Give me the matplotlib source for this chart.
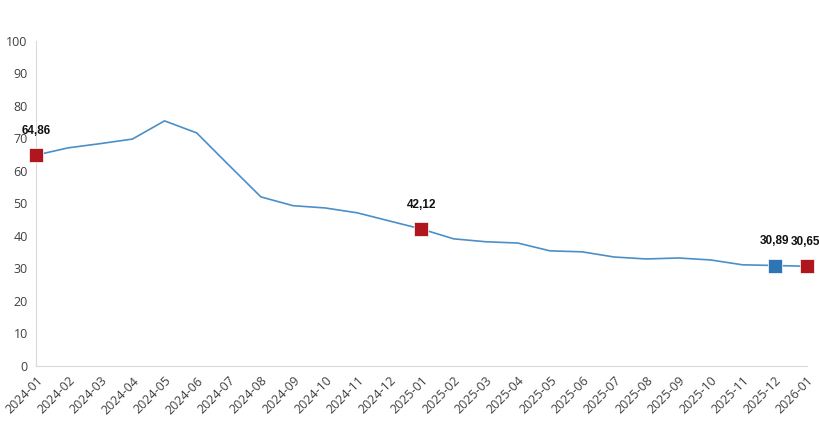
import matplotlib.pyplot as plt

months = ["2024-01", "2024-02", "2024-03", "2024-04", "2024-05", "2024-06",
          "2024-07", "2024-08", "2024-09", "2024-10", "2024-11", "2024-12",
          "2025-01", "2025-02", "2025-03", "2025-04", "2025-05", "2025-06",
          "2025-07", "2025-08", "2025-09", "2025-10", "2025-11", "2025-12",
          "2026-01"]
values = [64.86, 67.1, 68.4, 69.8, 75.4, 71.7, 61.8, 52.0, 49.3, 48.6, 47.1, 44.6,
          42.12, 39.1, 38.2, 37.8, 35.4, 35.1, 33.5, 32.9, 33.2, 32.6, 31.1, 30.89,
          30.65]

# highlighted points
red_idx = [0, 12, 24]
blue_idx = [23]

red = "#B0161E"
blue = "#2E75B6"
line_color = "#4A8FC9"

fig = plt.figure(figsize=(8.2, 4.22), dpi=100)
ax = fig.add_axes([0.044, 0.133, 0.940, 0.770])

x = list(range(len(months)))
ax.plot(x, values, color=line_color, linewidth=1.2, zorder=2)

for idx, c in ((red_idx, red), (blue_idx, blue)):
    for i in idx:
        ax.plot(x[i], values[i], marker="s", markersize=9.5, color=c,
                markeredgecolor="white", markeredgewidth=0.5, clip_on=False, zorder=3)

for i in red_idx + blue_idx:
    label = f"{values[i]:.2f}".replace(".", ",")
    dx = -1 if i == len(months) - 1 else 0
    ax.annotate(label, (x[i], values[i]), xytext=(dx, 13), textcoords="offset points",
                ha="center", va="bottom", fontsize=8.5, fontweight="bold",
                family="Liberation Sans", color="#111111", annotation_clip=False)

ax.set_xlim(0, len(months) - 1)
ax.set_ylim(0, 100)
ax.set_yticks(range(0, 101, 10))
ax.set_xticks(x)
ax.set_xticklabels(months, rotation=45, ha="right", rotation_mode="anchor")

for lbl in ax.get_xticklabels() + ax.get_yticklabels():
    lbl.set_family("Open Sans")
    lbl.set_fontsize(9)
    lbl.set_color("#404040")

ax.tick_params(length=0, pad=6)
ax.spines["top"].set_visible(False)
ax.spines["right"].set_visible(False)
ax.spines["left"].set_color("#d9d9d9")
ax.spines["bottom"].set_color("#d9d9d9")

plt.savefig("out.png", dpi=100)
